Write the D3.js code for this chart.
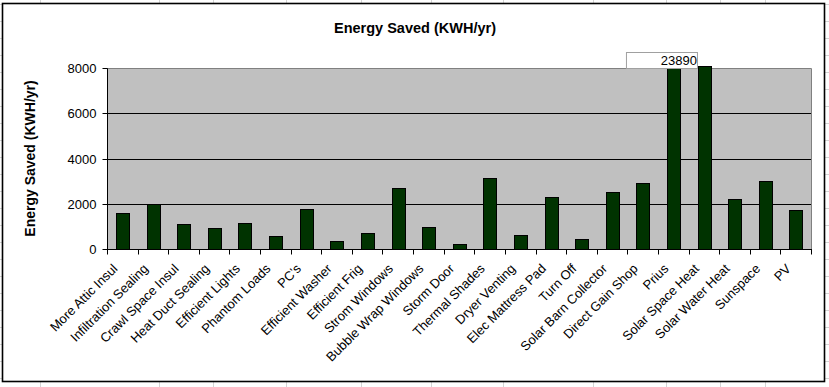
<!DOCTYPE html>
<html><head><meta charset="utf-8">
<script src="https://cdn.jsdelivr.net/npm/d3@7"></script>
<style>body{margin:0;background:#fff}svg{display:block}text{font-family:"Liberation Sans",Arial,sans-serif}</style>
</head><body>
<script>
const categories = ["More Attic Insul","Infiltration Sealing","Crawl Space Insul","Heat Duct Sealing","Efficient Lights","Phantom Loads","PC's","Efficient Washer","Efficient Frig","Strom Windows","Bubble Wrap Windows","Storm Door","Thermal Shades","Dryer Venting","Elec Mattress Pad","Turn Off","Solar Barn Collector","Direct Gain Shop","Prius","Solar Space Heat","Solar Water Heat","Sunspace","PV"];
const values = [1600,1990,1110,930,1150,580,1770,360,710,2700,970,220,3140,620,2300,440,2530,2920,23890,8100,2210,3010,1730];
const yTicks = [0,2000,4000,6000,8000];
const calloutValue = 23890;
const title = "Energy Saved (KWH/yr)";
const yTitle = "Energy Saved (KWH/yr)";

const W = 829, H = 387;
const svg = d3.select("body").append("svg").attr("width", W).attr("height", H);

// spreadsheet grid behind the chart
const gv = [40,159,213,286,361,431,503,593,666,720,765];
gv.forEach(x => svg.append("line").attr("x1",x+0.5).attr("x2",x+0.5).attr("y1",0).attr("y2",H).attr("stroke","#d4d4d4"));
for (let y = 3.7; y < H; y += 17) svg.append("line").attr("x1",0).attr("x2",W).attr("y1",Math.round(y)+0.5).attr("y2",Math.round(y)+0.5).attr("stroke","#d4d4d4");

// chart frame
svg.append("rect").attr("x",2.5).attr("y",3.5).attr("width",822).attr("height",378).attr("fill","#fff").attr("stroke","#000").attr("stroke-width",1.6);

const m = {l:107, t:68, r:811, b:249};
const x = d3.scaleBand().domain(categories).range([m.l, m.r]).paddingInner(0.59).paddingOuter(0.295);
const xb = d3.scaleBand().domain(categories).range([m.l, m.r]);
const y = d3.scaleLinear().domain([0, 8000]).range([m.b, m.t]);

svg.append("rect").attr("x",m.l).attr("y",m.t).attr("width",m.r-m.l).attr("height",m.b-m.t).attr("fill","#c0c0c0");

// gridlines
svg.append("g").selectAll("line").data(yTicks.filter(d=>d>0 && d<8000)).join("line")
  .attr("x1",m.l).attr("x2",m.r).attr("y1",d=>Math.round(y(d))+0.5).attr("y2",d=>Math.round(y(d))+0.5)
  .attr("stroke","#000");
// plot border top/right
svg.append("path").attr("d",`M${m.l},${m.t+0.5}H${m.r+0.5}V${m.b}`).attr("fill","none").attr("stroke","#808080");

// bars
const yc = y.copy().clamp(true);
const barTop = d => Math.round(d>8000 && d<9000 ? y(d) : yc(d));
svg.append("g").selectAll("rect").data(values).join("rect")
  .attr("x",(d,i)=>Math.round(x(categories[i]))+0.5)
  .attr("width",Math.round(x.bandwidth()))
  .attr("y",d=>barTop(d)+0.5)
  .attr("height",d=>Math.round(y(0)) - barTop(d))
  .attr("fill","#003300").attr("stroke","#000").attr("stroke-width",1);

// y axis
const ya = svg.append("g").attr("transform",`translate(${m.l+0.5},0.5)`)
  .call(d3.axisLeft(y).tickValues(yTicks).tickSize(5).tickFormat(d3.format("d")).tickPadding(6));
ya.select(".domain").attr("stroke","#000").attr("d",`M0,${m.t}V${m.b}`);
ya.selectAll(".tick line").attr("stroke","#000");
ya.selectAll("text").attr("font-size",13).attr("fill","#000").attr("font-family","Liberation Sans, Arial, sans-serif");
ya.selectAll(".tick").attr("transform",d=>`translate(0,${Math.round(y(d))})`);

// x axis
const xa = svg.append("g").attr("transform",`translate(0,${m.b+0.5})`);
xa.append("line").attr("x1",m.l).attr("x2",m.r+1).attr("stroke","#000");
const bounds = categories.map(c=>xb(c)).concat([m.r]);
xa.selectAll("line.tk").data(bounds).join("line").attr("class","tk")
  .attr("x1",d=>Math.round(d)+0.5).attr("x2",d=>Math.round(d)+0.5).attr("y1",0).attr("y2",5).attr("stroke","#000");
xa.selectAll("text").data(categories).join("text")
  .attr("transform",d=>`translate(${xb(d)+xb.bandwidth()/2-4},${20}) rotate(-45)`)
  .attr("text-anchor","end").attr("font-size",13).attr("fill","#000").text(d=>d);

// callout box
const bi = values.indexOf(calloutValue);
const bx = xb(categories[bi]);
svg.append("rect").attr("x",bx-31.5).attr("y",52.5).attr("width",71).attr("height",16).attr("fill","#fff").attr("stroke","#a0a0a0");
svg.append("text").attr("x",bx+39).attr("y",65).attr("text-anchor","end").attr("font-size",13).attr("fill","#000").text(d3.format("d")(calloutValue));

// titles
svg.append("text").attr("x",415).attr("y",33).attr("text-anchor","middle").attr("font-size",14.5).attr("font-weight","bold").text(title);
svg.append("text").attr("transform",`translate(35,${(m.t+m.b)/2}) rotate(-90)`).attr("text-anchor","middle").attr("font-size",14).attr("font-weight","bold").text(yTitle);
</script>
</body></html>
